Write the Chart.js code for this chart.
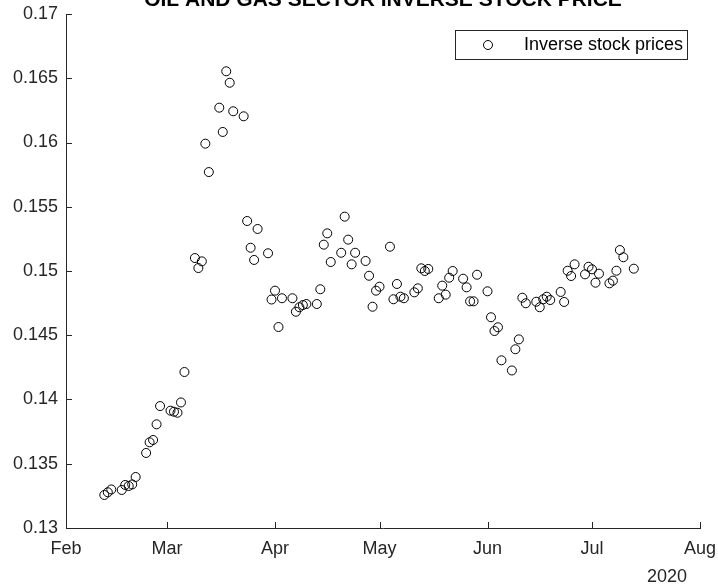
<!DOCTYPE html>
<html>
<head>
<meta charset="utf-8">
<script src="https://cdn.jsdelivr.net/npm/chart.js@4.4.1/dist/chart.umd.min.js"></script>
<style>
html, body { margin: 0; padding: 0; background: #fff; }
#wrap { width: 718px; height: 588px; }
</style>
</head>
<body>
<div id="wrap"><canvas id="chart" width="718" height="588"></canvas></div>
<script>
const chartTitle = "OIL AND GAS SECTOR INVERSE STOCK PRICE";
const seriesName = "Inverse stock prices";

const dates = [
	"2020-02-12", "2020-02-13", "2020-02-14", "2020-02-17", "2020-02-18", "2020-02-19", "2020-02-20", "2020-02-21",
	"2020-02-24", "2020-02-25", "2020-02-26", "2020-02-27", "2020-02-28",
	"2020-03-02", "2020-03-03", "2020-03-04", "2020-03-05", "2020-03-06",
	"2020-03-09", "2020-03-10", "2020-03-11", "2020-03-12", "2020-03-13",
	"2020-03-16", "2020-03-17", "2020-03-18", "2020-03-19", "2020-03-20",
	"2020-03-23", "2020-03-24", "2020-03-25", "2020-03-26", "2020-03-27",
	"2020-03-30", "2020-03-31", "2020-04-01", "2020-04-02", "2020-04-03",
	"2020-04-06", "2020-04-07", "2020-04-08", "2020-04-09", "2020-04-10",
	"2020-04-13", "2020-04-14", "2020-04-15", "2020-04-16", "2020-04-17",
	"2020-04-20", "2020-04-21", "2020-04-22", "2020-04-23", "2020-04-24",
	"2020-04-27", "2020-04-28", "2020-04-29", "2020-04-30", "2020-05-01",
	"2020-05-04", "2020-05-05", "2020-05-06", "2020-05-07", "2020-05-08",
	"2020-05-11", "2020-05-12", "2020-05-13", "2020-05-14", "2020-05-15",
	"2020-05-18", "2020-05-19", "2020-05-20", "2020-05-21", "2020-05-22",
	"2020-05-25", "2020-05-26", "2020-05-27", "2020-05-28", "2020-05-29",
	"2020-06-01", "2020-06-02", "2020-06-03", "2020-06-04", "2020-06-05",
	"2020-06-08", "2020-06-09", "2020-06-10", "2020-06-11", "2020-06-12",
	"2020-06-15", "2020-06-16", "2020-06-17", "2020-06-18", "2020-06-19",
	"2020-06-22", "2020-06-23", "2020-06-24", "2020-06-25", "2020-06-26",
	"2020-06-29", "2020-06-30", "2020-07-01", "2020-07-02", "2020-07-03",
	"2020-07-06", "2020-07-07", "2020-07-08", "2020-07-09", "2020-07-10",
	"2020-07-13"
];

const prices = [
	0.13257, 0.13278, 0.13300, 0.13296, 0.13335, 0.13327, 0.13339, 0.13397,
	0.13584, 0.13667, 0.13685, 0.13807, 0.13949,
	0.13913, 0.13905, 0.13897, 0.13977, 0.14214,
	0.15101, 0.15023, 0.15075, 0.15991, 0.15770,
	0.16271, 0.16082, 0.16554, 0.16465, 0.16243,
	0.16204, 0.15389, 0.15181, 0.15086, 0.15327,
	0.15138, 0.14778, 0.14847, 0.14564, 0.14788,
	0.14788, 0.14683, 0.14718, 0.14735, 0.14743,
	0.14743, 0.14858, 0.15205, 0.15293, 0.15070,
	0.15142, 0.15423, 0.15244, 0.15052, 0.15142,
	0.15078, 0.14963, 0.14722, 0.14847, 0.14878,
	0.15189, 0.14780, 0.14899, 0.14800, 0.14788,
	0.14834, 0.14865, 0.15021, 0.15000, 0.15016,
	0.14788, 0.14886, 0.14816, 0.14948, 0.15000,
	0.14940, 0.14873, 0.14764, 0.14764, 0.14971,
	0.14842, 0.14640, 0.14533, 0.14562, 0.14305,
	0.14226, 0.14391, 0.14468, 0.14792, 0.14749,
	0.14761, 0.14718, 0.14780, 0.14800, 0.14774,
	0.14837, 0.14759, 0.15002, 0.14961, 0.15052,
	0.14974, 0.15033, 0.15013, 0.14909, 0.14979,
	0.14904, 0.14925, 0.15002, 0.15163, 0.15107,
	0.15018
];

const monthTicks = ["2020-02-01", "2020-03-01", "2020-04-01", "2020-05-01", "2020-06-01", "2020-07-01", "2020-08-01"];
const monthLabels = ["Feb", "Mar", "Apr", "May", "Jun", "Jul", "Aug"];
const yearLabel = "2020";
const yTicks = [0.13, 0.135, 0.14, 0.145, 0.15, 0.155, 0.16, 0.165, 0.17];
const yLabels = ["0.13", "0.135", "0.14", "0.145", "0.15", "0.155", "0.16", "0.165", "0.17"];

const axisColor = "#262626";
const fontFamily = '"Liberation Sans", Arial, sans-serif';

// days since Feb 1 2020
function dayOf(s) {
	const p = s.split("-").map(Number);
	return (Date.UTC(p[0], p[1] - 1, p[2]) - Date.UTC(2020, 1, 1)) / 86400000;
}

const monthDays = monthTicks.map(dayOf);
const points = dates.map((d, i) => ({ x: dayOf(d), y: prices[i] }));

const decor = {
	id: "decor",
	afterDraw(chart) {
		const { ctx, chartArea, scales } = chart;
		ctx.save();
		// inward tick marks
		ctx.strokeStyle = axisColor;
		ctx.lineWidth = 1;
		ctx.beginPath();
		scales.x.ticks.forEach(t => {
			const px = Math.round(scales.x.getPixelForValue(t.value)) + 0.5;
			ctx.moveTo(px, chartArea.bottom);
			ctx.lineTo(px, chartArea.bottom - 6);
		});
		scales.y.ticks.forEach(t => {
			const py = Math.round(scales.y.getPixelForValue(t.value)) + 0.5;
			ctx.moveTo(chartArea.left, py);
			ctx.lineTo(chartArea.left + 6, py);
		});
		ctx.stroke();

		// title (cut at the top, as in the original)
		ctx.fillStyle = "#000";
		ctx.font = "bold 21px " + fontFamily;
		ctx.textAlign = "center";
		ctx.textBaseline = "alphabetic";
		ctx.fillText(chartTitle, (chartArea.left + chartArea.right) / 2, 6);

		// year under the x axis
		ctx.fillStyle = axisColor;
		ctx.font = "18px " + fontFamily;
		ctx.textBaseline = "middle";
		ctx.fillText(yearLabel, chartArea.right - 33, 577);

		// legend box
		ctx.fillStyle = "#fff";
		ctx.fillRect(456, 31, 231, 28);
		ctx.strokeStyle = axisColor;
		ctx.strokeRect(455.5, 30.5, 232, 29);
		ctx.strokeStyle = "#000";
		ctx.beginPath();
		ctx.arc(488, 45, 4.5, 0, Math.PI * 2);
		ctx.stroke();
		ctx.fillStyle = "#000";
		ctx.textAlign = "left";
		ctx.fillText(seriesName, 524, 45);
		ctx.restore();
	}
};

new Chart(document.getElementById("chart"), {
	type: "scatter",
	data: {
		datasets: [{
			label: seriesName,
			data: points,
			pointRadius: 4.5,
			pointHoverRadius: 4.5,
			pointBorderWidth: 1,
			pointBackgroundColor: "rgba(0,0,0,0)",
			pointBorderColor: "#000",
			showLine: false
		}]
	},
	options: {
		responsive: false,
		animation: false,
		devicePixelRatio: 1,
		layout: { padding: { top: 14, right: 18, left: 0, bottom: 0 } },
		plugins: {
			legend: { display: false },
			tooltip: { enabled: false }
		},
		scales: {
			x: {
				type: "linear",
				min: monthDays[0],
				max: monthDays[monthDays.length - 1],
				afterBuildTicks: s => { s.ticks = monthDays.map(v => ({ value: v })); },
				afterFit: s => { s.height = 60; s.paddingLeft = 0; s.paddingRight = 0; },
				grid: { display: false, drawTicks: false },
				border: { display: true, color: axisColor, width: 1 },
				ticks: {
					autoSkip: false,
					maxRotation: 0,
					padding: 10,
					color: axisColor,
					font: { family: fontFamily, size: 18 },
					callback: v => monthLabels[monthDays.indexOf(v)]
				}
			},
			y: {
				min: yTicks[0],
				max: yTicks[yTicks.length - 1],
				afterBuildTicks: s => { s.ticks = yTicks.map(v => ({ value: v })); },
				afterFit: s => { s.width = 66; s.paddingTop = 0; s.paddingBottom = 0; },
				grid: { display: false, drawTicks: false },
				border: { display: true, color: axisColor, width: 1 },
				ticks: {
					padding: 8,
					color: axisColor,
					font: { family: fontFamily, size: 18 },
					callback: v => yLabels[yTicks.indexOf(v)]
				}
			}
		}
	},
	plugins: [decor]
});
</script>
</body>
</html>
